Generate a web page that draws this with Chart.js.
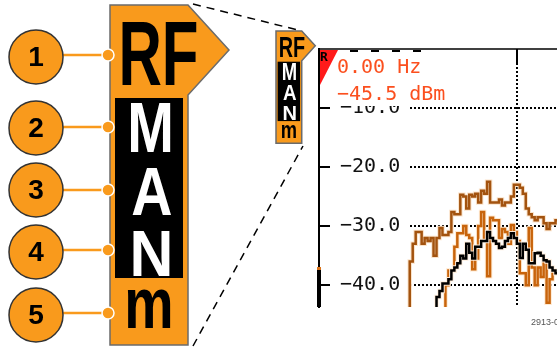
<!DOCTYPE html>
<html>
<head>
<meta charset="utf-8">
<script src="https://cdn.jsdelivr.net/npm/chart.js@4.4.1/dist/chart.umd.min.js"></script>
<style>
  html, body { margin: 0; padding: 0; background: #fff; }
  canvas { display: block; }
</style>
</head>
<body>
<canvas id="spectrum" width="557" height="348"></canvas>
<script>
  // frequency bins shown on screen (display is cropped on the right)
  const bins = Array.from({ length: 51 }, (_, i) => 30 + i);
  const centerBin = 66.5;

  const traceBrown = [-45, -36, -33, -31, -31, -33, -32, -32.5, -32, -35, -32, -30.3, -31.5, -31.5, -31,
    -27.6, -28, -28, -24.7, -25, -27, -24.7, -25, -24.5, -26, -24, -24.5, -22.5, -26, -26, -26,
    -25.5, -26.5, -26, -26, -25, -23, -23, -23.5, -24.5, -27, -28, -28.5, -29, -28.5, -28.5,
    -29.5, -30.5, -29.5, -29.5, -29];
  const traceOrange = [null, null, null, null, null, null, null, null, null, null, null, null,
    -45, -40, -37.5, -37.5, -33.5, -31.2, -31.2, -30, -31.5, -32, -37.3, -35.5, -30, -27.6,
    -32, -38.5, -28.6, -29, -29, -32, -30.5, -31, -33, -29.8, -31, -32.5, -38, -38, -40,
    -30.3, -37, -40, -37, -38.6, -36, -43, -39, -38, -38];
  const traceBlack = [null, null, null, null, null, null, null, null, null,
    -45, -42, -41, -39.7, -39.7, -39, -37.5, -37, -36.3, -35, -35.5, -33, -34.5, -35.5,
    -33.5, -33.5, -32.5, -32.5, -31, -32, -32.5, -33, -33.7, -33.5, -32.5, -32, -31.2,
    -32, -33, -35.4, -33, -34, -36.3, -36.3, -34.6, -34.5, -35, -35.8, -36, -37, -37.5, -38];

  const yTicks = [-40, -30, -20, -10];
  const markerFreq = '0.00 Hz';
  const markerAmp = '\u221245.5 dBm';
  const callouts = ['1', '2', '3', '4', '5'];

  const ORANGE = '#f99a1c';

  function makeSet(values, color, width, order) {
    return {
      data: bins.map((b, i) => ({ x: b, y: values[i] })),
      borderColor: color,
      borderWidth: width,
      stepped: 'middle',
      pointRadius: 0,
      fill: false,
      order: order
    };
  }

  function drawBadge(ctx, ox, oy, s) {
    ctx.save();
    ctx.translate(ox, oy);
    ctx.scale(s, s);
    ctx.beginPath();
    ctx.moveTo(0, 0);
    ctx.lineTo(78, 0);
    ctx.lineTo(119, 45);
    ctx.lineTo(78, 90);
    ctx.lineTo(78, 340);
    ctx.lineTo(0, 340);
    ctx.closePath();
    ctx.fillStyle = ORANGE;
    ctx.fill();
    ctx.strokeStyle = '#6b6b6b';
    ctx.lineWidth = 1.5 / s;
    ctx.stroke();
    ctx.fillStyle = '#000';
    ctx.fillRect(5, 93, 68, 180);

    function letter(t, cx, base, size, sx, color) {
      ctx.save();
      ctx.translate(cx, base);
      ctx.scale(sx, 1);
      ctx.font = 'bold ' + size + 'px "Liberation Sans", Arial, sans-serif';
      ctx.textAlign = 'center';
      ctx.textBaseline = 'alphabetic';
      ctx.fillStyle = color;
      ctx.fillText(t, 0, 0);
      ctx.restore();
    }
    letter('RF', 48.5, 80, 91, 0.66, '#000');
    letter('M', 40.5, 147, 70, 0.8, '#fff');
    letter('A', 42, 210, 68, 0.84, '#fff');
    letter('N', 41.5, 271, 64, 0.95, '#fff');
    letter('m', 39, 323, 73, 0.76, '#000');
    ctx.restore();
  }

  const overlay = {
    id: 'overlay',
    beforeDatasetsDraw(chart) {
      const ctx = chart.ctx;
      const area = chart.chartArea;
      const y = chart.scales.y;
      const x = chart.scales.x;
      ctx.save();
      // dotted graticule
      ctx.strokeStyle = '#000';
      ctx.lineWidth = 2;
      ctx.setLineDash([2, 2]);
      yTicks.forEach(v => {
        const py = Math.round(y.getPixelForValue(v));
        ctx.beginPath();
        ctx.moveTo(area.left + 91, py);
        ctx.lineTo(area.right, py);
        ctx.stroke();
      });
      const cx = Math.round(x.getPixelForValue(centerBin));
      ctx.beginPath();
      ctx.moveTo(cx, area.top + 14);
      ctx.lineTo(cx, area.bottom);
      ctx.stroke();
      ctx.setLineDash([]);
      ctx.beginPath();
      ctx.moveTo(cx, area.top);
      ctx.lineTo(cx, area.top + 14);
      ctx.stroke();
      // tick marks inside the axis
      yTicks.forEach(v => {
        const py = Math.round(y.getPixelForValue(v));
        ctx.beginPath();
        ctx.moveTo(area.left, py);
        ctx.lineTo(area.left + 11, py);
        ctx.stroke();
      });
      // top frame
      ctx.lineWidth = 1.5;
      ctx.beginPath();
      ctx.moveTo(area.left, area.top);
      ctx.lineTo(area.right, area.top);
      ctx.stroke();
      ctx.restore();
    },
    afterDraw(chart) {
      const ctx = chart.ctx;
      const area = chart.chartArea;
      ctx.save();
      // readout background
      ctx.fillStyle = '#fff';
      ctx.fillRect(area.left + 18, area.top + 5, 115, 52);
      ctx.strokeStyle = '#000';
      ctx.lineWidth = 2;
      ctx.setLineDash([8, 13]);
      ctx.beginPath();
      ctx.moveTo(area.left + 31, area.top + 2);
      ctx.lineTo(area.left + 111, area.top + 2);
      ctx.stroke();
      ctx.setLineDash([]);
      // marker triangle
      ctx.fillStyle = '#ff1a1a';
      ctx.beginPath();
      ctx.moveTo(area.left + 1, area.top + 1);
      ctx.lineTo(area.left + 19, area.top + 1);
      ctx.lineTo(area.left + 1, area.top + 36);
      ctx.closePath();
      ctx.fill();
      ctx.fillStyle = '#000';
      ctx.font = 'bold 13px "DejaVu Sans Mono", monospace';
      ctx.textBaseline = 'top';
      ctx.fillText('R', area.left + 1, area.top + 2);
      ctx.fillStyle = '#fb4f1e';
      ctx.font = '20px "DejaVu Sans Mono", monospace';
      ctx.textBaseline = 'alphabetic';
      ctx.fillText(markerFreq, area.left + 18, area.top + 24);
      ctx.fillText(markerAmp, area.left + 18, area.top + 51);
      // reference level bar on the axis
      ctx.fillStyle = '#000';
      ctx.fillRect(area.left - 2, area.bottom - 38, 4, 38);
      ctx.fillStyle = '#d9731a';
      ctx.fillRect(area.left - 2, area.bottom - 40, 4, 3);

      // callout graphic on the left
      drawBadge(ctx, 110, 5, 1);
      drawBadge(ctx, 276, 31, 0.33);
      ctx.strokeStyle = '#000';
      ctx.lineWidth = 1.5;
      ctx.setLineDash([8, 6]);
      ctx.beginPath();
      ctx.moveTo(193, 4);
      ctx.lineTo(298, 30);
      ctx.moveTo(193, 346);
      ctx.lineTo(303, 146);
      ctx.stroke();
      ctx.setLineDash([]);

      const cy = [57, 128, 190, 252, 315];
      const ly = [55, 127, 190, 250, 313];
      callouts.forEach((n, i) => {
        ctx.strokeStyle = ORANGE;
        ctx.lineWidth = 2.5;
        ctx.beginPath();
        ctx.moveTo(62, ly[i]);
        ctx.lineTo(108, ly[i]);
        ctx.stroke();
        ctx.beginPath();
        ctx.arc(108, ly[i], 6, 0, Math.PI * 2);
        ctx.fillStyle = ORANGE;
        ctx.fill();
        ctx.strokeStyle = '#fff';
        ctx.lineWidth = 1.5;
        ctx.stroke();
        ctx.beginPath();
        ctx.arc(36, cy[i], 27, 0, Math.PI * 2);
        ctx.fillStyle = ORANGE;
        ctx.fill();
        ctx.strokeStyle = '#333';
        ctx.lineWidth = 1.5;
        ctx.stroke();
        ctx.fillStyle = '#000';
        ctx.font = 'bold 28px "Liberation Sans", Arial, sans-serif';
        ctx.textAlign = 'center';
        ctx.textBaseline = 'middle';
        ctx.fillText(n, 36, cy[i] + 1);
      });

      ctx.fillStyle = '#555';
      ctx.font = '9px "Liberation Sans Narrow", "Liberation Sans", Arial, sans-serif';
      ctx.textAlign = 'left';
      ctx.textBaseline = 'alphabetic';
      ctx.fillText('2913-025', 531, 325);
      ctx.restore();
    }
  };

  const config = {
    type: 'line',
    data: {
      datasets: [
        makeSet(traceBlack, '#000', 2.5, 1),
        makeSet(traceBlack, 'rgba(255,238,220,0.95)', 4.5, 2),
        makeSet(traceOrange, '#c8640c', 2.5, 3),
        makeSet(traceOrange, 'rgba(255,232,205,0.95)', 4.5, 4),
        makeSet(traceBrown, '#a3530f', 2.5, 5),
        makeSet(traceBrown, 'rgba(250,225,200,0.95)', 4.5, 6)
      ]
    },
    options: {
      responsive: false,
      animation: false,
      layout: { padding: { left: 319, top: 49, right: 0, bottom: 41 } },
      plugins: { legend: { display: false }, tooltip: { enabled: false } },
      scales: {
        x: { type: 'linear', min: 0, max: 80, display: false },
        y: {
          min: -43.7,
          max: 0,
          afterBuildTicks: axis => { axis.ticks = yTicks.map(v => ({ value: v })); },
          afterFit: axis => { axis.width = 0; },
          ticks: {
            mirror: true,
            padding: 21,
            color: '#111',
            font: { family: '"DejaVu Sans Mono", monospace', size: 20 },
            callback: v => '\u2212' + Math.abs(v).toFixed(1)
          },
          grid: { display: false, drawTicks: false },
          border: { display: true, color: '#000', width: 2 }
        }
      }
    },
    plugins: [overlay]
  };

  window.onload = function() {
    const ctx = document.getElementById('spectrum').getContext('2d');
    new Chart(ctx, config);
  };
</script>
</body>
</html>
